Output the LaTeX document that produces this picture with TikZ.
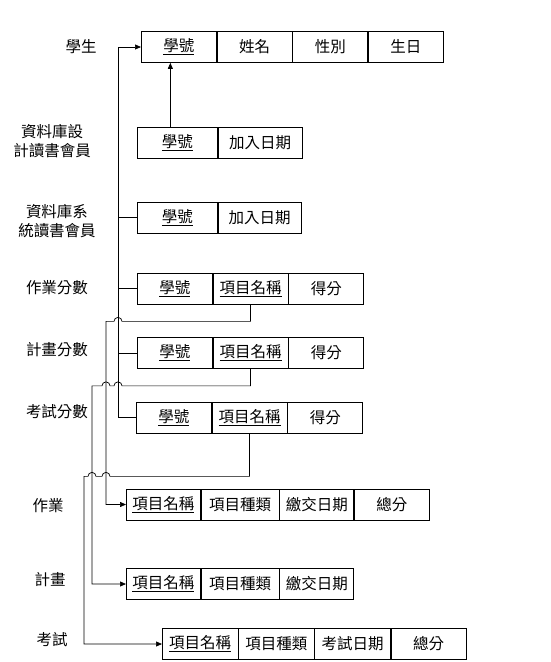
\documentclass[tikz,border=0pt]{standalone}
\usepackage{fontspec}
\setmainfont{Noto Sans CJK TC}
\usetikzlibrary{arrows.meta,calc,positioning}

\begin{document}
\begin{tikzpicture}[x=1pt,y=-1pt,>={Triangle[length=6pt,width=5pt]},line width=0.7pt,font=\fontsize{15.5}{19}\selectfont]
\tikzstyle{cell}=[draw,minimum width=75pt,minimum height=31pt,inner sep=0pt,anchor=west]
\tikzstyle{tag}=[align=center,inner sep=0pt]
\useasboundingbox (0,0) rectangle (551,662);
% tables
\node[cell] (stu1) at (141,47) {\underline{學號}};
\node[cell,right=0pt of stu1] (stu2) {姓名};
\node[cell,right=0pt of stu2] (stu3) {性別};
\node[cell,right=0pt of stu3] (stu4) {生日};
\node[cell,minimum width=80pt] (dbd1) at (137,142.5) {\underline{學號}};
\node[cell,minimum width=84pt,right=0pt of dbd1] (dbd2) {加入日期};
\node[cell,minimum width=80pt] (dbs1) at (137,217.5) {\underline{學號}};
\node[cell,minimum width=83pt,right=0pt of dbs1] (dbs2) {加入日期};
\node[cell] (sa1) at (137,288.5) {\underline{學號}};
\node[cell,right=0pt of sa1] (sa2) {\underline{項目名稱}};
\node[cell,right=0pt of sa2] (sa3) {得分};
\node[cell] (sp1) at (137,353) {\underline{學號}};
\node[cell,right=0pt of sp1] (sp2) {\underline{項目名稱}};
\node[cell,right=0pt of sp2] (sp3) {得分};
\node[cell] (se1) at (136,417.5) {\underline{學號}};
\node[cell,right=0pt of se1] (se2) {\underline{項目名稱}};
\node[cell,right=0pt of se2] (se3) {得分};
\node[cell,minimum width=74pt] (ta1) at (126,504.5) {\underline{項目名稱}};
\node[cell,minimum width=78pt,right=0pt of ta1] (ta2) {項目種類};
\node[cell,minimum width=74pt,right=0pt of ta2] (ta3) {繳交日期};
\node[cell,right=0pt of ta3] (ta4) {總分};
\node[cell,minimum width=74pt] (tp1) at (126,584) {\underline{項目名稱}};
\node[cell,minimum width=78pt,right=0pt of tp1] (tp2) {項目種類};
\node[cell,minimum width=74pt,right=0pt of tp2] (tp3) {繳交日期};
\node[cell,minimum width=75.5pt] (te1) at (162,644) {\underline{項目名稱}};
\node[cell,minimum width=75.5pt,right=0pt of te1] (te2) {項目種類};
\node[cell,minimum width=75.5pt,right=0pt of te2] (te3) {考試日期};
\node[cell,minimum width=75.5pt,right=0pt of te3] (te4) {總分};
% labels
\node[tag] (lstu) at (81,47) {學生};
\node[tag] (ldbd) at (52,141) {資料庫設\\計讀書會員};
\node[tag] (ldbs) at (57,221) {資料庫系\\統讀書會員};
\node[tag] (lsa) at (57,288) {作業分數};
\node[tag] (lsp) at (57,350) {計畫分數};
\node[tag] (lse) at (57,412) {考試分數};
\node[tag] (lta) at (48,506) {作業};
\node[tag] (ltp) at (50,580) {計畫};
\node[tag] (lte) at (52,640) {考試};
% bus columns
\coordinate (colT) at (118,0);
\coordinate (colA) at (106,0);
\coordinate (colB) at (92,0);
\coordinate (colC) at (84,0);
\coordinate (up) at ($(dbd1.north)+(-7,0)$);
% links to student
\draw[->] (se1.west) -- (se1.west -| colT) |- (stu1.west);
\draw (dbs1.west) -- (dbs1.west -| colT);
\draw (sa1.west) -- (sa1.west -| colT);
\draw (sp1.west) -- (sp1.west -| colT);
\draw[->] (up) -- (stu1.south -| up);
% links to items
\draw[->] (sa2.south) -- ++(0,17) coordinate (ja) -- ($(ja -| colT)+(4,0)$) arc[start angle=0,end angle=-180,radius=4] -- (ja -| colA) |- (ta1.west);
\draw[->] (sp2.south) -- ++(0,17) coordinate (jb) -- ($(jb -| colT)+(4,0)$) arc[start angle=0,end angle=-180,radius=4] -- ($(jb -| colA)+(4,0)$) arc[start angle=0,end angle=-180,radius=4] -- (jb -| colB) |- (tp1.west);
\draw[->] (se2.south) -- ++(0,43) coordinate (jc) -- ($(jc -| colA)+(4,0)$) arc[start angle=0,end angle=-180,radius=4] -- ($(jc -| colB)+(4,0)$) arc[start angle=0,end angle=-180,radius=4] -- (jc -| colC) |- (te1.west);
\end{tikzpicture}
\end{document}
